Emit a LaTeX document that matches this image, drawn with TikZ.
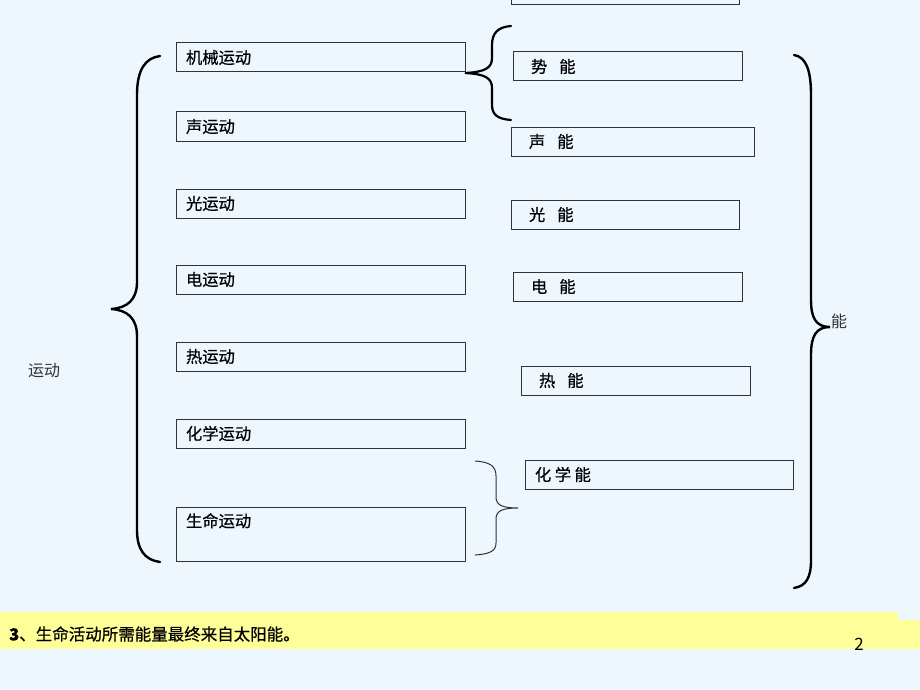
\documentclass[tikz,border=0pt]{standalone}
\usepackage{fontspec}
\setmainfont{Noto Sans CJK SC}
\newfontfamily\cjk{Noto Sans CJK SC}
\newfontfamily\cjkb[FakeBold=0.6]{Noto Sans CJK SC}
\definecolor{bgc}{HTML}{EEF6FE}
\definecolor{ylw}{HTML}{FFFF99}
\definecolor{edge}{HTML}{333333}
\begin{document}
\begin{tikzpicture}[x=1pt,y=-1pt,
  bx/.style={draw=edge, line width=1pt, inner xsep=10pt, inner ysep=0pt, outer sep=0pt,
    anchor=north west, align=left, font=\cjkb\fontsize{16.3}{18}\selectfont, text=black},
  rbx/.style={bx, inner xsep=18pt},
  bigbrace/.style={draw=black, line width=2.4pt, line cap=round},
  thinbrace/.style={draw=edge, line width=1pt},
  lbl/.style={font=\cjk\fontsize{16}{18}\selectfont, text=edge, inner sep=0pt}]
\fill[bgc] (0,0) rectangle (920,690);
\useasboundingbox (0,0) rectangle (920,690);
% bottom band
\fill[ylw] (0,612) rectangle (898,649);
\fill[ylw] (898,620) rectangle (920,649);
% left boxes
\node[bx, text width=269pt, minimum height=29pt] (m1) at (176,43) {机械运动};
\node[bx, text width=269pt, minimum height=29pt] (m2) at (176,112) {声运动};
\node[bx, text width=269pt, minimum height=29pt] (m3) at (176,189) {光运动};
\node[bx, text width=269pt, minimum height=29pt] (m4) at (176,265) {电运动};
\node[bx, text width=269pt, minimum height=29pt] (m5) at (176,342) {热运动};
\node[bx, text width=269pt, minimum height=29pt] (m6) at (176,419) {化学运动};
\node[bx, text width=269pt, text height=20pt, text depth=34pt] (m7) at (176,507) {生命运动};
% right boxes
\node[rbx, text width=192pt, minimum height=14pt, anchor=south west] (e0) at (511,4.5) {};
\node[rbx, text width=193pt, minimum height=29pt] (e1) at (513,52) {势\hspace{12pt}能};
\node[rbx, text width=207pt, minimum height=29pt] (e2) at (511,127) {声\hspace{12pt}能};
\node[rbx, text width=192pt, minimum height=29pt] (e3) at (511,200) {光\hspace{12pt}能};
\node[rbx, text width=193pt, minimum height=29pt] (e4) at (513,272) {电\hspace{12pt}能};
\node[rbx, text width=193pt, minimum height=29pt] (e5) at (521,366) {热\hspace{12pt}能};
\node[bx, text width=248pt, minimum height=29pt] (e6) at (525,460) {化\hspace{3.5pt}学\hspace{3.5pt}能};
% labels
\node[lbl] (yd) at (44,371) {运动};
\node[lbl] (neng) at (839,321) {能};
% brace tips
\coordinate (tipL) at (111,309);
\coordinate (tipR) at (830,327);
\coordinate (tipS) at (465,73);
\coordinate (tipC) at (518,508);
% left big brace
\draw[bigbrace] (160,56) .. controls (145,58) and (137,70) .. (137,95) -- (137,282)
  .. controls (137,300) and (127,308) .. (tipL)
  .. controls (127,310) and (137,318) .. (137,336) -- (137,530)
  .. controls (137,550) and (145,560) .. (160,562);
% right big brace
\draw[bigbrace] (794,55) .. controls (806,57) and (811,70) .. (811,95) -- (811,300)
  .. controls (811,318) and (816,327) .. (tipR)
  .. controls (816,327) and (811,336) .. (811,355) -- (811,560)
  .. controls (811,578) and (806,586) .. (794,588);
% brace to potential energy
\draw[bigbrace, line width=2.2pt] (511,26) .. controls (498,27) and (492,33) .. (492,45) -- (492,58)
  .. controls (492,68) and (485,72) .. (tipS)
  .. controls (485,74) and (492,78) .. (492,88) -- (492,105)
  .. controls (492,115) and (498,119) .. (511,120);
% thin brace
\draw[thinbrace] (475,461) .. controls (490,462) and (496,466) .. (496,476) -- (496,497)
  .. controls (496,505) and (502,508) .. (tipC)
  .. controls (502,508) and (496,511) .. (496,519) -- (496,543)
  .. controls (496,551) and (490,554) .. (475,555);
% bottom text
\node[anchor=west, inner sep=0pt, font=\cjkb\fontsize{16.5}{18}\selectfont] (note) at (9,634) {\textbf{3}、生命活动所需能量最终来自太阳能。};
\node[inner sep=0pt, font=\cjk\fontsize{17}{20}\selectfont] (pg) at (859,644) {2};
\end{tikzpicture}
\end{document}
